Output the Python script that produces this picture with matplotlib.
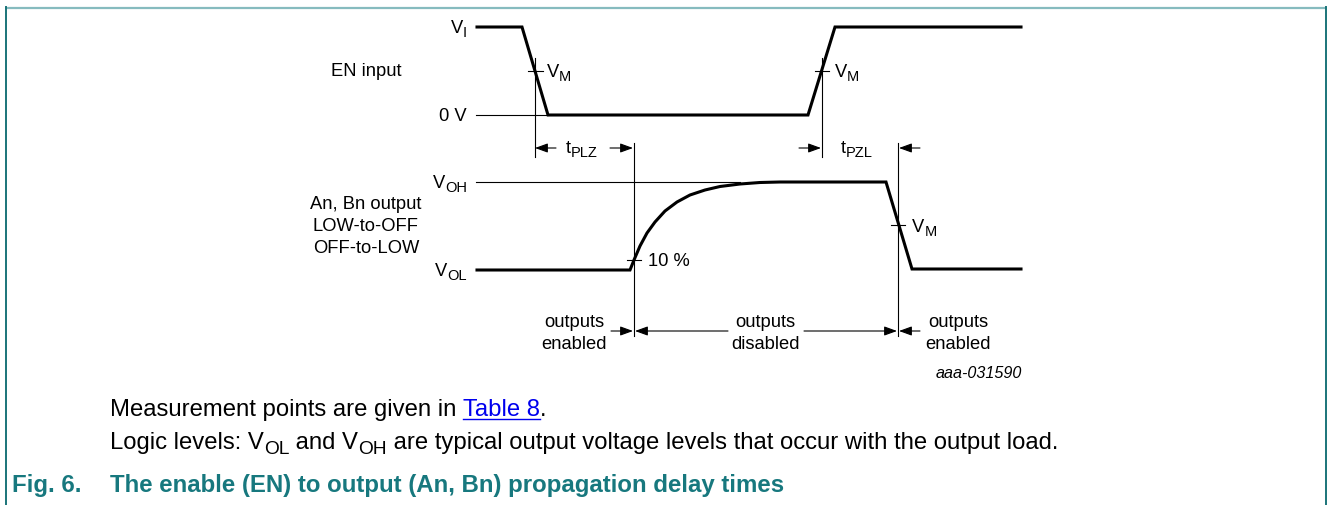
"""
EN to An/Bn propagation delay timing diagram
"""
import matplotlib
matplotlib.use("Agg")
import matplotlib.pyplot as plt

plt.rcParams['font.family'] = ['Liberation Sans', 'DejaVu Sans']

# waveforms (pixel coordinates)
en_x = [477, 522, 548, 808, 835, 1021]
en_y = [27, 27, 115, 115, 27, 27]
out_x = [477, 630, 634, 640, 647, 655, 665, 677, 690, 705, 720, 740, 760, 780, 886, 912, 1021]
out_y = [270, 270, 260, 246, 233, 222, 211, 202, 195, 190, 186.5, 184, 182.5, 182, 182, 269, 269]

# labels: (text, subscript) pieces
level_labels = [[('V', ''), ('I', 's')], [('0 V', '')],
                [('V', ''), ('OH', 's')], [('V', ''), ('OL', 's')]]
level_base = [33, 121, 188, 276]
vm_label = [('V', ''), ('M', 's')]
tplz_label = [('t', ''), ('PLZ', 's')]
tpzl_label = [('t', ''), ('PZL', 's')]
signal_names = ['EN input', 'An, Bn output\nLOW-to-OFF\nOFF-to-LOW']
state_labels = ['outputs\nenabled', 'outputs\ndisabled', 'outputs\nenabled']
state_x = [574, 765, 958]
figure_code = 'aaa-031590'
note_1 = [('Measurement points are given in ', ''), ('Table 8', 'link'), ('.', '')]
note_2 = [('Logic levels: V', ''), ('OL', 's'), (' and V', ''), ('OH', 's'),
          (' are typical output voltage levels that occur with the output load.', '')]
fig_no = 'Fig. 6.'
fig_title = 'The enable (EN) to output (An, Bn) propagation delay times'

teal = '#17787e'
fs = 13.2
bfs = 17.2

fig = plt.figure(figsize=(13.3, 5.05), dpi=100)
ax = fig.add_axes([0, 0, 1, 1])
ax.set_xlim(0, 1330)
ax.set_ylim(505, 0)
ax.axis('off')
fig.canvas.draw()
r = fig.canvas.get_renderer()

# frame
ax.plot([5, 1326], [8, 8], color='#86bbbf', lw=1.6, solid_capstyle='butt')
ax.plot([5.5, 5.5], [7, 505], color='#1a7479', lw=1.4)
ax.plot([1326, 1326], [7, 505], color='#1a7479', lw=1.4)

# waveforms
ax.plot(en_x, en_y, color='black', lw=2.2, solid_joinstyle='miter')
ax.plot(out_x, out_y, color='black', lw=2.2, solid_joinstyle='miter')

thin = dict(color='black', lw=0.8)
# reference levels
ax.plot([476, 548], [115, 115], **thin)
ax.plot([476, 740], [182, 182], **thin)
# measurement verticals
ax.plot([535, 535], [58, 157], **thin)
ax.plot([822, 822], [58, 157], **thin)
ax.plot([634, 634], [143, 336], **thin)
ax.plot([898, 898], [143, 336], **thin)
# crosshair ticks
ax.plot([528, 543], [71, 71], **thin)
ax.plot([815, 829], [71, 71], **thin)
ax.plot([627, 641], [260, 260], **thin)
ax.plot([891, 905], [225, 225], **thin)


def arrow(x0, x1, y):
    ax.annotate('', xy=(x1, y), xytext=(x0, y),
                arrowprops=dict(arrowstyle='-|>,head_length=0.55,head_width=0.2',
                                mutation_scale=14, shrinkA=0, shrinkB=0,
                                lw=0.8, color='black'))


arrow(556, 535, 148)
arrow(610, 633, 148)
arrow(799, 821, 148)
arrow(920, 899, 148)
arrow(611, 633, 331)
arrow(728, 635, 331)
arrow(804, 897, 331)
arrow(920, 899, 331)


def width(s, size, **kw):
    a = ax.text(0, 0, s + 'x', fontsize=size, **kw)
    b = ax.text(0, 0, 'x', fontsize=size, **kw)
    w = a.get_window_extent(r).width - b.get_window_extent(r).width
    a.remove()
    b.remove()
    return w


def run(x, y, pieces, size, ha='left', color='black', **kw):
    # draw text pieces one after another, 's' pieces as subscripts
    sizes = [size * 0.8 if k == 's' else size for _, k in pieces]
    ws = [width(t, sz, **kw) for (t, _), sz in zip(pieces, sizes)]
    if ha == 'right':
        x -= sum(ws)
    elif ha == 'center':
        x -= sum(ws) / 2
    drop = 0.21 * size * 100 / 72
    for (t, k), sz, w in zip(pieces, sizes, ws):
        c = '#0000ee' if k == 'link' else color
        ax.text(x, y + (drop if k == 's' else 0), t, fontsize=sz, color=c,
                va='baseline', **kw)
        if k == 'link':
            ax.plot([x, x + w], [y + 2.5, y + 2.5], color=c, lw=1)
        x += w


# text in the diagram
for p, yb in zip(level_labels, level_base):
    run(467, yb, p, fs, ha='right')
ax.text(366, 76, signal_names[0], fontsize=fs, ha='center', va='baseline')
ax.text(366, 253, signal_names[1], fontsize=fs, ha='center', va='baseline',
        multialignment='center', linespacing=1.38)
run(547, 77, vm_label, fs)
run(835, 77, vm_label, fs)
run(912, 232, vm_label, fs)
ax.text(648, 266, '10 %', fontsize=fs, va='baseline')
run(566, 153, tplz_label, fs)
run(841, 153, tpzl_label, fs)
for s, x in zip(state_labels, state_x):
    ax.text(x, 349, s, fontsize=fs, ha='center', va='baseline',
            multialignment='center', linespacing=1.36)
ax.text(1022, 378, figure_code, fontsize=11.6, style='italic', ha='right', va='baseline')

# notes below the diagram
run(110, 416, note_1, bfs)
run(110, 449, note_2, bfs)

ax.text(12, 492, fig_no, fontsize=17.3, fontweight='bold', color=teal, va='baseline')
ax.text(110, 492, fig_title, fontsize=17.3, fontweight='bold', color=teal, va='baseline')

fig.savefig('out.png', dpi=100)
